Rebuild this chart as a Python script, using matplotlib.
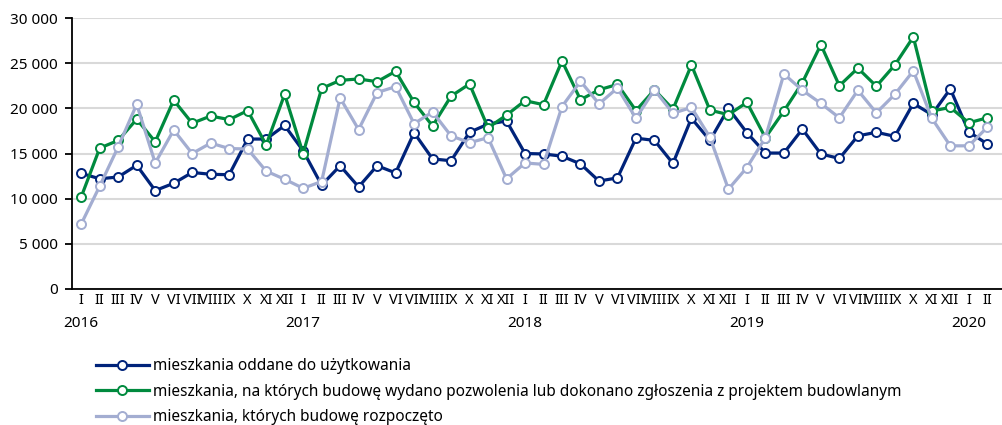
import matplotlib
matplotlib.use("Agg")
import matplotlib.pyplot as plt
import matplotlib.transforms as mtransforms
from matplotlib.ticker import FuncFormatter

plt.rcParams["font.family"] = ["Noto Sans", "DejaVu Sans"]

# ---------------------------------------------------------------------------
# Data (monthly, I 2016 - II 2020)
# ---------------------------------------------------------------------------
MONTHS = ["I", "II", "III", "IV", "V", "VI", "VII", "VIII", "IX", "X", "XI", "XII"]
month_labels = MONTHS * 4 + ["I", "II"]
years = ["2016", "2017", "2018", "2019", "2020"]

oddane = [12800, 12200, 12400, 13700, 10900, 11700, 12900, 12700, 12650, 16600, 16600, 18100,
          15300, 11500, 13650, 11300, 13650, 12850, 17300, 14400, 14200, 17350, 18250, 18600,
          15000, 14950, 14700, 13850, 11950, 12300, 16700, 16450, 13900, 18900, 16450, 20000,
          17300, 15050, 15050, 17700, 14950, 14450, 16950, 17350, 16900, 20550, 19300, 22150,
          17400, 16050]

pozwolenia = [10200, 15600, 16450, 18800, 16300, 20900, 18350, 19150, 18750, 19750, 15950, 21550,
              15000, 22200, 23100, 23250, 22950, 24100, 20650, 18050, 21350, 22700, 17850, 19250,
              20850, 20400, 25250, 20950, 22050, 22650, 19750, 22050, 19900, 24800, 19800, 19300,
              20650, 16750, 19700, 22850, 27050, 22500, 24450, 22450, 24800, 27900, 19700, 20100,
              18400, 18950]

rozpoczete = [7200, 11400, 15750, 20450, 13950, 17600, 15000, 16150, 15550, 15500, 13050, 12150,
              11150, 11900, 21150, 17650, 21750, 22400, 18300, 19600, 16950, 16200, 16750, 12200,
              13950, 13800, 20200, 23000, 20500, 22250, 18900, 22050, 19450, 20100, 16800, 11050,
              13450, 16750, 23800, 22000, 20550, 18950, 22000, 19500, 21550, 24150, 18900, 15850,
              15850, 17900]

series_labels = [
    "mieszkania oddane do użytkowania",
    "mieszkania, na których budowę wydano pozwolenia lub dokonano zgłoszenia z projektem budowlanym",
    "mieszkania, których budowę rozpoczęto",
]
COLORS = ["#00237A", "#008A3E", "#A3ADD1"]

# ---------------------------------------------------------------------------
# Plot
# ---------------------------------------------------------------------------
fig = plt.figure(figsize=(10.03, 4.25), dpi=100)
ax = fig.add_axes([72 / 1003, 1 - 289 / 425, (1003 - 72) / 1003, (289 - 18) / 425])

x = list(range(len(month_labels)))
for vals, color, label in zip([oddane, pozwolenia, rozpoczete], COLORS, series_labels):
    ax.plot(x, vals, color=color, linewidth=2.3, marker="o", markersize=6.5,
            markerfacecolor="white", markeredgecolor=color, markeredgewidth=1.4,
            label=label, clip_on=False, zorder=3)

ax.set_xlim(-0.5, 49.85)
ax.set_ylim(0, 30000)
ax.set_yticks(range(0, 30001, 5000))
ax.yaxis.set_major_formatter(FuncFormatter(lambda v, p: f"{int(v):,}".replace(",", " ")))
ax.yaxis.grid(True, color="#D9D9D9", linewidth=1.5)
ax.set_axisbelow(True)

for s in ["top", "right"]:
    ax.spines[s].set_visible(False)
ax.spines["left"].set_linewidth(1.3)
ax.spines["bottom"].set_linewidth(1.3)
ax.tick_params(axis="y", labelsize=11, length=5, width=1.3, pad=5, colors="black")
ax.tick_params(axis="x", labelsize=10.5, length=0, pad=3)

ax.set_xticks(x)
ax.set_xticklabels(month_labels)

# year labels under each January
trans = mtransforms.blended_transform_factory(ax.transData, ax.transAxes)
for k, yr in enumerate(years):
    ax.text(k * 12, -0.1, yr, transform=trans, ha="center", va="top", fontsize=11)

fig.legend(loc="upper left", bbox_to_anchor=(90 / 1003, 1 - 352 / 425), frameon=False,
           fontsize=11.1, handlelength=3.4, handletextpad=0.3, labelspacing=0.62,
           borderaxespad=0)

fig.savefig("out.png", dpi=100)
